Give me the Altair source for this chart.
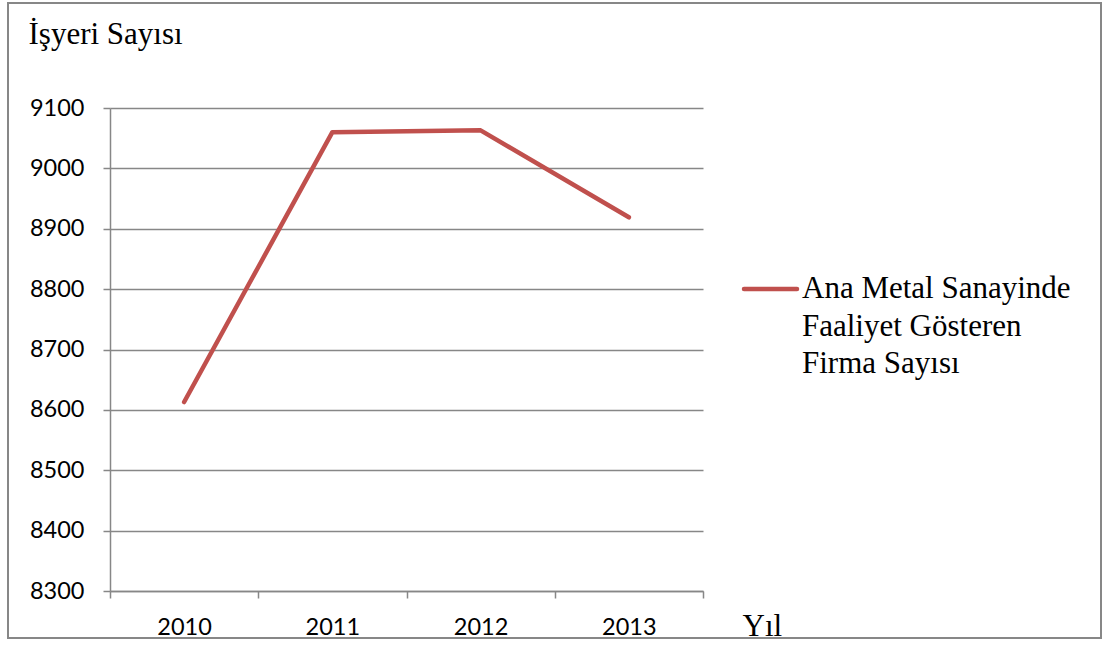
import altair as alt
import pandas as pd

years = [2010, 2011, 2012, 2013]
values = [8613, 9060, 9063, 8919]
series_name = "Ana Metal Sanayinde Faaliyet Gösteren Firma Sayısı"
legend_lines = ["Ana Metal Sanayinde", "Faaliyet Gösteren", "Firma Sayısı"]
y_ticks = [8300, 8400, 8500, 8600, 8700, 8800, 8900, 9000, 9100]
x_ticks = [2009.5, 2010, 2010.5, 2011, 2011.5, 2012, 2012.5, 2013, 2013.5]

df = pd.DataFrame({"Yıl": years, "Sayı": values, "Seri": series_name})

GRAY = "#878787"
RED = "#C0504D"
SERIF = "Liberation Serif"
SANS = "Lato"

x_enc = alt.X(
    "Yıl:Q",
    scale=alt.Scale(domain=[2009.5, 2013.5], nice=False, zero=False),
    axis=alt.Axis(
        values=x_ticks,
        labelExpr="datum.value % 1 == 0 ? '' + datum.value : ''",
        tickOpacity={"expr": "datum.value % 1 == 0 ? 0 : 1"},
        grid=False,
        tickSize=7,
        tickWidth=1.5,
        tickColor=GRAY,
        domainColor=GRAY,
        domainWidth=1.5,
        labelFont=SANS,
        labelFontSize=23.5,
        labelColor="black",
        labelPadding=17,
        title="Yıl",
        titleFont=SERIF,
        titleFontSize=31,
        titleFontWeight="normal",
        titleColor="black",
        titleAngle=0,
        titleAlign="left",
        titleBaseline="alphabetic",
        titleX=632,
        titleY=44,
    ),
)

y_enc = alt.Y(
    "Sayı:Q",
    scale=alt.Scale(domain=[8300, 9100], nice=False, zero=False),
    axis=alt.Axis(
        values=y_ticks,
        format="d",
        grid=True,
        gridColor=GRAY,
        gridWidth=1.5,
        tickSize=7,
        tickWidth=1.5,
        tickColor=GRAY,
        domainColor=GRAY,
        domainWidth=1.5,
        labelFont=SANS,
        labelFontSize=23.5,
        labelColor="black",
        labelPadding=19,
        title="İşyeri Sayısı",
        titleFont=SERIF,
        titleFontSize=31,
        titleFontWeight="normal",
        titleColor="black",
        titleAngle=0,
        titleAlign="left",
        titleBaseline="alphabetic",
        titleX=-82,
        titleY=-65,
    ),
)

line = alt.Chart(df).mark_line(
    color=RED, strokeWidth=4.5, strokeCap="round", strokeJoin="round", clip=False
).encode(x=x_enc, y=y_enc)

frame_df = pd.DataFrame({"k": [0]})
frame = alt.Chart(frame_df).mark_rect(
    fill="transparent", stroke=GRAY, strokeWidth=2, clip=False
).encode(
    x=alt.value(-102), x2=alt.value(991), y=alt.value(-105), y2=alt.value(530)
)

leg_df = pd.DataFrame({"Seri": [series_name]})
swatch = alt.Chart(leg_df).mark_rule(
    color=RED, strokeWidth=4.5, strokeCap="round", clip=False
).encode(x=alt.value(634), x2=alt.value(687), y=alt.value(181))

leg_text = alt.Chart(leg_df).mark_text(
    align="left", baseline="middle", font=SERIF, fontSize=31,
    color="black", lineBreak="\n", lineHeight=37.5, clip=False
).encode(
    x=alt.value(692), y=alt.value(181),
    text=alt.value("\n".join(legend_lines)),
)

chart = alt.layer(frame, line, swatch, leg_text).properties(
    width=593,
    height=483,
    autosize=alt.AutoSizeParams(type="none"),
    padding={"left": 110, "top": 108, "right": 406, "bottom": 55},
    background="white",
).configure_view(stroke=None)

chart.save("out.html", embed_options={"renderer": "svg", "actions": False})
